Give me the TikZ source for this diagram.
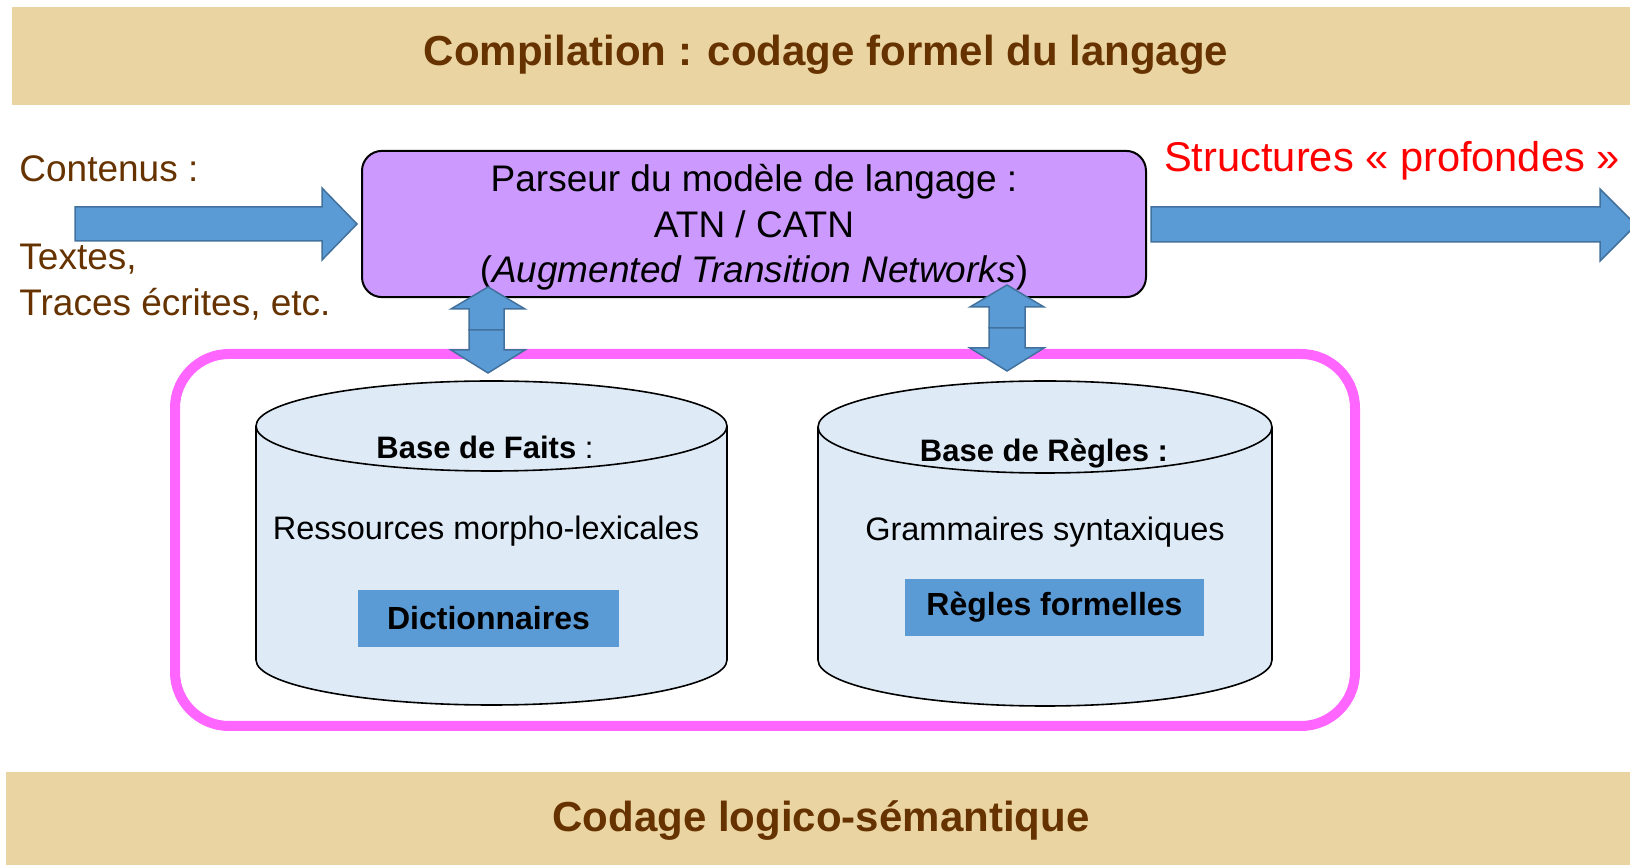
\documentclass[tikz,border=0pt]{standalone}
\usepackage{fontspec}
\setmainfont{Liberation Sans}
\usetikzlibrary{positioning}
\definecolor{papyrus}{RGB}{234,212,162}
\definecolor{brownish}{RGB}{102,51,0}
\definecolor{lilac}{RGB}{204,153,255}
\definecolor{arrowblue}{RGB}{91,155,213}
\definecolor{arrowedge}{RGB}{65,113,156}
\definecolor{dbblue}{RGB}{222,235,247}
\definecolor{pinkline}{RGB}{255,102,255}
\tikzset{
  banner/.style={fill=papyrus},
  bannertext/.style={font=\fontsize{21}{25}\selectfont\bfseries, text=brownish},
  intext/.style={font=\fontsize{18.5}{22.5}\selectfont, text=brownish},
  blockarrow/.style={fill=arrowblue, draw=arrowedge, line width=0.75pt},
  dbase/.style={fill=dbblue, draw=black, line width=0.8pt},
  dbtext/.style={font=\fontsize{16.25}{19}\selectfont},
  tag/.style={fill=arrowblue, inner sep=0pt, minimum width=130.5pt, minimum height=28.5pt, font=\fontsize{16}{19}\selectfont\bfseries},
}
\begin{document}
\begin{tikzpicture}[x=0.5pt,y=-0.5pt]
\useasboundingbox (0,0) rectangle (1630,865);

\fill[banner] (12,7) rectangle (1630,105);
\fill[banner] (6,772) rectangle (1630,865);
\node[bannertext, anchor=base] (titre) at (826,66) {Compilation : codage formel du langage};
\node[bannertext, anchor=base] (codage) at (821,832) {Codage logico-sémantique};

\node[intext, anchor=base west, inner sep=0pt] (contenus) at (19,182) {Contenus :};
\node[intext, anchor=base west, inner sep=0pt] (textes) at (19,270) {Textes,};
\node[intext, anchor=base west, inner sep=0pt] (traces) at (19,316) {Traces écrites, etc.};

\node[draw=black, line width=1pt, fill=lilac, rounded corners=10pt, minimum width=392pt, minimum height=73pt, align=center, font=\fontsize{18.5}{22.8}\selectfont] (parseur) at (754,224)
  {\rule{0pt}{17pt}Parseur du modèle de langage :\\ATN / CATN\\(\textit{Augmented Transition Networks})};
\node[anchor=base, text=red, font=\fontsize{20.8}{25}\selectfont, inner sep=0pt] (structures) at (1392,172) {Structures « profondes »};

\draw[blockarrow] (75,207) -- (322,207) -- (322,188) -- (357,224) -- (322,260) -- (322,241) -- (75,241) -- cycle;
\draw[blockarrow] (1151,207) -- (1600,207) -- (1600,189) -- (1636,225) -- (1600,261) -- (1600,242) -- (1151,242) -- cycle;

\draw[pinkline, line width=5pt, rounded corners=27pt] (175,354) rectangle (1355,726);

\draw[blockarrow] (469,330) -- (469,309) -- (451,309) -- (488,287) -- (525,309) -- (504,309) -- (504,330) -- cycle;
\draw[blockarrow] (469,330) -- (469,350) -- (451,350) -- (488,373) -- (525,350) -- (504,350) -- (504,330) -- cycle;
\draw[blockarrow] (989,328) -- (989,307) -- (970,307) -- (1007,285) -- (1044,307) -- (1025,307) -- (1025,328) -- cycle;
\draw[blockarrow] (989,328) -- (989,348) -- (970,348) -- (1007,371) -- (1044,348) -- (1025,348) -- (1025,328) -- cycle;

\draw[dbase] (256,426) -- (256,660) arc[start angle=180, end angle=0, x radius=235.5, y radius=45] -- (727,426) arc[start angle=0, end angle=-180, x radius=235.5, y radius=45] -- cycle;
\draw[dbase, fill=none] (256,426) arc[start angle=180, end angle=0, x radius=235.5, y radius=45];
\draw[dbase] (818,427) -- (818,660) arc[start angle=180, end angle=0, x radius=227, y radius=46] -- (1272,427) arc[start angle=0, end angle=-180, x radius=227, y radius=46] -- cycle;
\draw[dbase, fill=none] (818,427) arc[start angle=180, end angle=0, x radius=227, y radius=46];

\node[anchor=base, font=\fontsize{15.5}{18}\selectfont] (faits) at (485,459) {\textbf{Base de Faits} :};
\node[anchor=base, font=\fontsize{15.5}{18}\selectfont\bfseries] (regles) at (1044,462) {Base de Règles :};
\node[dbtext, anchor=base] (ressources) at (486,540) {Ressources morpho-lexicales};
\node[dbtext, anchor=base] (grammaires) at (1045,541) {Grammaires syntaxiques};
\node[tag] (dico) at (488.5,618.5) {Dictionnaires};
\node[tag, minimum width=149.5pt] (formelles) at (1054.5,607.5) {Règles formelles};
\end{tikzpicture}
\end{document}
